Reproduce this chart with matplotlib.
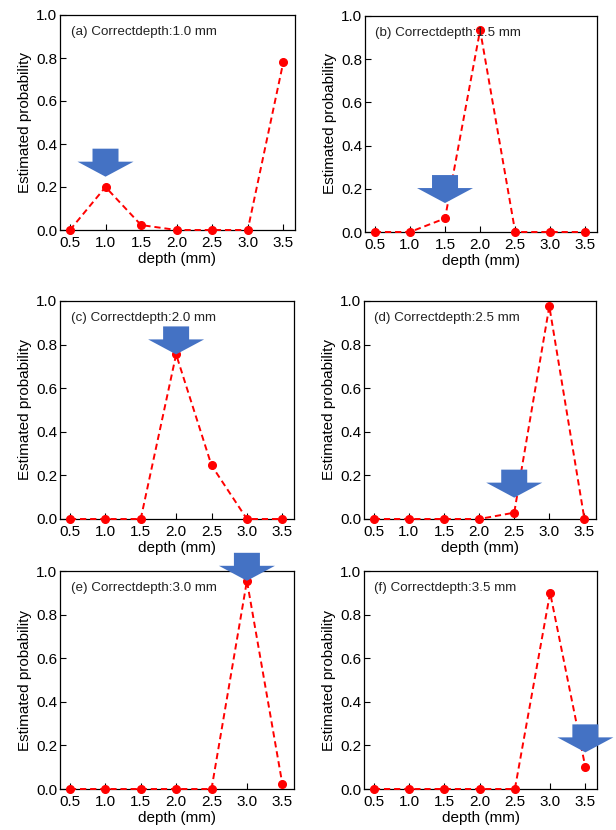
import matplotlib
matplotlib.use("Agg")
import matplotlib.pyplot as plt
import matplotlib.transforms as mtransforms
from matplotlib.patches import Polygon

plt.rcParams["font.family"] = ["Liberation Sans", "DejaVu Sans"]

depths = [0.5, 1.0, 1.5, 2.0, 2.5, 3.0, 3.5]
xtick_labels = ["0.5", "1.0", "1.5", "2.0", "2.5", "3.0", "3.5"]

prob_a = [0.0, 0.20, 0.023, 0.0, 0.0, 0.0, 0.78]
prob_b = [0.0, 0.0, 0.063, 0.935, 0.0, 0.0, 0.0]
prob_c = [0.0, 0.0, 0.0, 0.755, 0.246, 0.0, 0.0]
prob_d = [0.0, 0.0, 0.0, 0.0, 0.029, 0.976, 0.0]
prob_e = [0.0, 0.0, 0.0, 0.0, 0.0, 0.955, 0.024]
prob_f = [0.0, 0.0, 0.0, 0.0, 0.0, 0.90, 0.10]

panel_tags = ["(a)", "(b)", "(c)", "(d)", "(e)", "(f)"]
correct_depths = [1.0, 1.5, 2.0, 2.5, 3.0, 3.5]
# where the tip of the blue arrow sits (y, data units)
arrow_tips = [0.248, 0.134, 0.755, 0.098, 0.955, 0.168]

series = [prob_a, prob_b, prob_c, prob_d, prob_e, prob_f]

# axes boxes in pixels: left, top, right, bottom
boxes = [
    (60, 15, 295, 230),
    (365, 16, 597, 232),
    (60, 301, 294, 519),
    (364, 301, 596, 519),
    (60, 571, 294, 789),
    (364, 571, 597, 789),
]

W, H = 616, 830
fig = plt.figure(figsize=(W / 100, H / 100), dpi=100)

# block arrow shape, pixels relative to the tip
arrow_px = [(0, 0), (-28, 15), (-13, 15), (-13, 28), (13, 28), (13, 15), (28, 15)]
arrow_in = [(x / 100, y / 100) for x, y in arrow_px]

for i, (l, t, r, b) in enumerate(boxes):
    ax = fig.add_axes([l / W, 1 - b / H, (r - l) / W, (b - t) / H])
    ax.plot(depths, series[i], color="red", ls="--", lw=1.4, dashes=(3.2, 2),
            marker="o", ms=5.5, zorder=3, clip_on=False)
    ax.set_xlim(0.36, 3.665)
    ax.set_ylim(0, 1.0)
    ax.set_xticks(depths)
    ax.set_xticklabels(xtick_labels)
    ax.set_yticks([0, 0.2, 0.4, 0.6, 0.8, 1.0])
    ax.set_yticklabels(["0.0", "0.2", "0.4", "0.6", "0.8", "1.0"])
    ax.tick_params(direction="in", length=4, width=0.8, labelsize=11)
    ax.tick_params(axis="x", pad=4)
    ax.tick_params(axis="y", pad=2)
    ax.set_xlabel("depth (mm)", fontsize=11, labelpad=2)
    ax.set_ylabel("Estimated probability", fontsize=11, labelpad=3)
    for s in ax.spines.values():
        s.set_linewidth(0.9)
    ax.text(0.045, 0.92, f"{panel_tags[i]} Correctdepth:{correct_depths[i]:.1f} mm",
            transform=ax.transAxes, fontsize=9.6,
            va="center", ha="left", color="#222222")

    trans = fig.dpi_scale_trans + mtransforms.ScaledTranslation(
        correct_depths[i], arrow_tips[i], ax.transData)
    arrow = Polygon(arrow_in, closed=True, facecolor="#4472C4",
                    edgecolor="none", transform=trans, zorder=5, clip_on=False)
    ax.add_patch(arrow)

fig.savefig("out.png", dpi=100)
